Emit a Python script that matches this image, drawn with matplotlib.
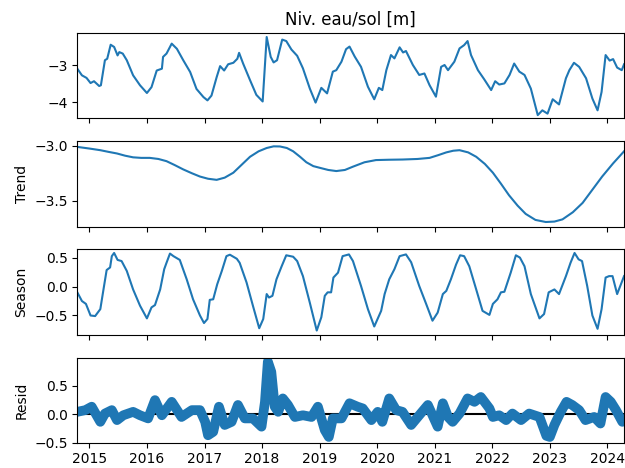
import datetime as dt

import matplotlib
matplotlib.use("Agg")
import matplotlib.pyplot as plt
import matplotlib.dates as mdates

# Decimal-year sample dates and values
OBS_T = [2014.79, 2014.87, 2014.95, 2015.02, 2015.08, 2015.17, 2015.20, 2015.27,
         2015.31, 2015.37, 2015.43, 2015.49, 2015.52, 2015.58, 2015.65, 2015.76,
         2015.88, 2016.00, 2016.08, 2016.17, 2016.26, 2016.28, 2016.34, 2016.43,
         2016.52, 2016.63, 2016.75, 2016.86, 2016.98, 2017.05, 2017.12, 2017.21,
         2017.27, 2017.34, 2017.41, 2017.50, 2017.57, 2017.60, 2017.67, 2017.79,
         2017.90, 2018.01, 2018.08, 2018.15, 2018.20, 2018.26, 2018.35, 2018.42,
         2018.51, 2018.61, 2018.71, 2018.83, 2018.93, 2019.03, 2019.13, 2019.23,
         2019.29, 2019.38, 2019.46, 2019.52, 2019.61, 2019.72, 2019.84, 2019.95,
         2020.03, 2020.09, 2020.16, 2020.24, 2020.30, 2020.39, 2020.45, 2020.50,
         2020.62, 2020.73, 2020.82, 2020.91, 2021.02, 2021.11, 2021.17, 2021.23,
         2021.34, 2021.43, 2021.51, 2021.57, 2021.63, 2021.75, 2021.86, 2021.98,
         2022.05, 2022.12, 2022.21, 2022.30, 2022.38, 2022.47, 2022.56, 2022.67,
         2022.79, 2022.87, 2022.96, 2023.05, 2023.16, 2023.28, 2023.34, 2023.42,
         2023.51, 2023.63, 2023.74, 2023.83, 2023.90, 2023.97, 2024.04, 2024.10,
         2024.17, 2024.25, 2024.29]
OBS_V = [-3.09, -3.27, -3.34, -3.48, -3.43, -3.56, -3.54, -2.86,
         -2.82, -2.44, -2.50, -2.73, -2.64, -2.68, -2.86, -3.27,
         -3.54, -3.75, -3.59, -3.14, -3.09, -2.77, -2.68, -2.41,
         -2.55, -2.86, -3.18, -3.64, -3.86, -3.95, -3.82, -3.32,
         -3.02, -3.14, -2.97, -2.93, -2.82, -2.66, -2.95, -3.40,
         -3.80, -3.98, -2.23, -2.77, -2.92, -2.86, -2.30, -2.34,
         -2.57, -2.74, -3.08, -3.63, -4.01, -3.61, -3.76, -3.17,
         -3.13, -2.90, -2.56, -2.49, -2.76, -3.04, -3.58, -3.92,
         -3.61, -3.67, -3.13, -2.72, -2.81, -2.51, -2.65, -2.61,
         -2.99, -3.26, -3.22, -3.54, -3.85, -3.04, -2.99, -3.13,
         -2.90, -2.54, -2.45, -2.34, -2.72, -3.13, -3.38, -3.67,
         -3.43, -3.52, -3.49, -3.26, -2.95, -3.17, -3.26, -3.63,
         -4.35, -4.22, -4.31, -3.92, -4.06, -3.35, -3.13, -2.93,
         -3.04, -3.35, -3.90, -4.22, -3.72, -2.72, -2.87, -2.83,
         -3.06, -3.13, -2.97]

TREND_T = [2014.79, 2015.00, 2015.19, 2015.33, 2015.48, 2015.62, 2015.76, 2015.90,
           2016.05, 2016.20, 2016.34, 2016.48, 2016.63, 2016.78, 2016.92, 2017.06,
           2017.21, 2017.35, 2017.50, 2017.65, 2017.79, 2017.94, 2018.08, 2018.20,
           2018.31, 2018.43, 2018.54, 2018.66, 2018.77, 2018.89, 2019.00, 2019.15,
           2019.29, 2019.44, 2019.58, 2019.78, 2019.98, 2020.20, 2020.44, 2020.70,
           2020.91, 2021.06, 2021.20, 2021.32, 2021.43, 2021.58, 2021.72, 2021.87,
           2022.01, 2022.15, 2022.29, 2022.44, 2022.58, 2022.75, 2022.93, 2023.08,
           2023.22, 2023.40, 2023.57, 2023.74, 2023.91, 2024.10, 2024.29]
TREND_V = [-3.010, -3.025, -3.040, -3.055, -3.070, -3.090, -3.105, -3.110,
           -3.110, -3.120, -3.140, -3.175, -3.215, -3.250, -3.280, -3.300,
           -3.310, -3.290, -3.245, -3.170, -3.100, -3.050, -3.020, -3.005,
           -3.006, -3.020, -3.050, -3.100, -3.150, -3.185, -3.200, -3.220,
           -3.230, -3.220, -3.190, -3.150, -3.130, -3.127, -3.125, -3.120,
           -3.110, -3.085, -3.060, -3.045, -3.040, -3.060, -3.100, -3.165,
           -3.245, -3.345, -3.450, -3.545, -3.620, -3.675, -3.694, -3.690,
           -3.670, -3.605, -3.520, -3.400, -3.280, -3.160, -3.050]

SEASON_T = [2014.79, 2014.87, 2014.94, 2015.02, 2015.10, 2015.19, 2015.25, 2015.30,
            2015.36, 2015.39, 2015.43, 2015.49, 2015.56, 2015.65, 2015.76, 2015.88,
            2016.00, 2016.08, 2016.14, 2016.23, 2016.30, 2016.34, 2016.40, 2016.46,
            2016.57, 2016.69, 2016.80, 2016.92, 2016.99, 2017.05, 2017.09, 2017.15,
            2017.22, 2017.30, 2017.38, 2017.44, 2017.56, 2017.61, 2017.73, 2017.84,
            2017.95, 2018.02, 2018.08, 2018.12, 2018.18, 2018.25, 2018.34, 2018.42,
            2018.54, 2018.61, 2018.71, 2018.83, 2018.95, 2019.03, 2019.09, 2019.14,
            2019.20, 2019.24, 2019.32, 2019.40, 2019.51, 2019.58, 2019.72, 2019.84,
            2019.95, 2020.07, 2020.13, 2020.21, 2020.30, 2020.39, 2020.50, 2020.59,
            2020.73, 2020.85, 2020.96, 2021.05, 2021.14, 2021.20, 2021.28, 2021.37,
            2021.44, 2021.51, 2021.60, 2021.72, 2021.83, 2021.95, 2022.01, 2022.09,
            2022.15, 2022.21, 2022.32, 2022.41, 2022.48, 2022.56, 2022.67, 2022.82,
            2022.90, 2022.98, 2023.08, 2023.16, 2023.28, 2023.36, 2023.43, 2023.50,
            2023.56, 2023.65, 2023.74, 2023.83, 2023.90, 2023.97, 2024.03, 2024.09,
            2024.17, 2024.29]
SEASON_V = [-0.10, -0.25, -0.30, -0.50, -0.51, -0.39, -0.02, 0.285,
            0.33, 0.525, 0.58, 0.46, 0.44, 0.27, -0.05, -0.33,
            -0.55, -0.36, -0.32, -0.05, 0.30, 0.41, 0.57, 0.525,
            0.46, 0.125, -0.22, -0.50, -0.63, -0.56, -0.23, -0.22,
            0.04, 0.27, 0.525, 0.55, 0.48, 0.41, 0.07, -0.33,
            -0.72, -0.56, -0.13, -0.19, -0.16, 0.125, 0.35, 0.54,
            0.515, 0.44, 0.18, -0.28, -0.76, -0.53, -0.16, -0.10,
            -0.10, 0.155, 0.24, 0.525, 0.555, 0.44, 0.01, -0.39,
            -0.69, -0.42, -0.13, 0.125, 0.30, 0.525, 0.555, 0.42,
            0.01, -0.30, -0.59, -0.45, -0.13, -0.075, 0.125, 0.38,
            0.54, 0.525, 0.35, -0.05, -0.42, -0.49, -0.30, -0.22,
            -0.10, -0.09, 0.24, 0.54, 0.50, 0.35, -0.13, -0.55,
            -0.475, -0.10, -0.05, -0.13, 0.18, 0.41, 0.58, 0.47,
            0.44, 0.01, -0.50, -0.73, -0.39, 0.155, 0.18, 0.18,
            -0.13, 0.18]

RESID_T = [2014.79, 2014.93, 2015.04, 2015.19, 2015.27, 2015.39, 2015.48, 2015.59,
           2015.76, 2015.88, 2016.02, 2016.14, 2016.26, 2016.43, 2016.60, 2016.78,
           2016.92, 2017.01, 2017.06, 2017.15, 2017.25, 2017.35, 2017.47, 2017.58,
           2017.70, 2017.84, 2017.99, 2018.05, 2018.10, 2018.16, 2018.22, 2018.28,
           2018.36, 2018.45, 2018.57, 2018.71, 2018.86, 2018.97, 2019.09, 2019.16,
           2019.23, 2019.38, 2019.52, 2019.66, 2019.75, 2019.90, 2020.01, 2020.09,
           2020.21, 2020.33, 2020.44, 2020.59, 2020.73, 2020.88, 2021.05, 2021.14,
           2021.23, 2021.31, 2021.43, 2021.57, 2021.69, 2021.80, 2021.95, 2022.01,
           2022.12, 2022.24, 2022.35, 2022.50, 2022.64, 2022.82, 2022.94, 2023.00,
           2023.08, 2023.19, 2023.29, 2023.39, 2023.51, 2023.62, 2023.77, 2023.88,
           2023.97, 2024.06, 2024.15, 2024.26]
RESID_V = [0.04, 0.07, 0.13, -0.135, 0.01, 0.07, -0.105, -0.02,
           0.04, -0.02, -0.075, 0.245, -0.02, 0.215, -0.05, 0.07,
           0.07, -0.135, -0.37, -0.31, 0.13, -0.19, -0.135, 0.16,
           -0.075, -0.075, -0.22, 0.215, 0.92, 0.74, 0.13, 0.04,
           0.275, 0.16, -0.05, -0.02, -0.05, 0.13, -0.28, -0.40,
           -0.075, -0.075, 0.19, 0.13, 0.10, -0.105, 0.04, -0.135,
           0.275, 0.07, 0.04, -0.19, -0.02, 0.16, -0.22, 0.19,
           -0.05, -0.135, 0.01, 0.275, 0.215, 0.30, 0.10, -0.05,
           -0.02, -0.105, 0.01, -0.105, 0.01, -0.05, -0.38, -0.40,
           -0.19, 0.04, 0.215, 0.16, 0.07, -0.105, -0.05, -0.165,
           0.30, 0.215, 0.07, -0.135]

TITLE = "Niv. eau/sol [m]"
X_START, X_END = 2014.79, 2024.29


def to_dates(years):
    """Convert decimal years to datetime objects."""
    out = []
    for y in years:
        year = int(y)
        start = dt.datetime(year, 1, 1)
        length = (dt.datetime(year + 1, 1, 1) - start).total_seconds()
        out.append(start + dt.timedelta(seconds=(y - year) * length))
    return out


def main():
    fig, axes = plt.subplots(4, 1, sharex=True, figsize=(6.25, 4.68), dpi=100)
    fig.subplots_adjust(left=0.1237, right=0.9985, top=0.9288,
                        bottom=0.0541, hspace=0.27)
    xlim = to_dates([X_START, X_END])

    ax = axes[0]
    ax.plot(to_dates(OBS_T), OBS_V, color="C0")
    ax.set_title(TITLE)
    ax.set_ylim(-4.44, -2.13)
    ax.set_yticks([-4, -3])

    ax = axes[1]
    ax.plot(to_dates(TREND_T), TREND_V, color="C0")
    ax.set_ylabel("Trend")
    ax.set_ylim(-3.735, -2.96)
    ax.set_yticks([-3.5, -3.0])

    ax = axes[2]
    ax.plot(to_dates(SEASON_T), SEASON_V, color="C0")
    ax.set_ylabel("Season")
    ax.set_ylim(-0.83, 0.64)
    ax.set_yticks([-0.5, 0.0, 0.5])

    ax = axes[3]
    # dense daily markers in the original render as a thick band
    ax.plot(to_dates(RESID_T), RESID_V, color="C0", linewidth=7,
            solid_capstyle="round", solid_joinstyle="round")
    ax.plot(xlim, [0, 0], color="#000000", zorder=-3)
    ax.set_ylabel("Resid")
    ax.set_ylim(-0.5, 0.99)
    ax.set_yticks([-0.5, 0.0, 0.5])

    axes[-1].set_xlim(xlim)
    axes[-1].xaxis.set_major_locator(mdates.YearLocator())
    axes[-1].xaxis.set_major_formatter(mdates.DateFormatter("%Y"))

    fig.savefig("out.png", dpi=100)


if __name__ == "__main__":
    main()
